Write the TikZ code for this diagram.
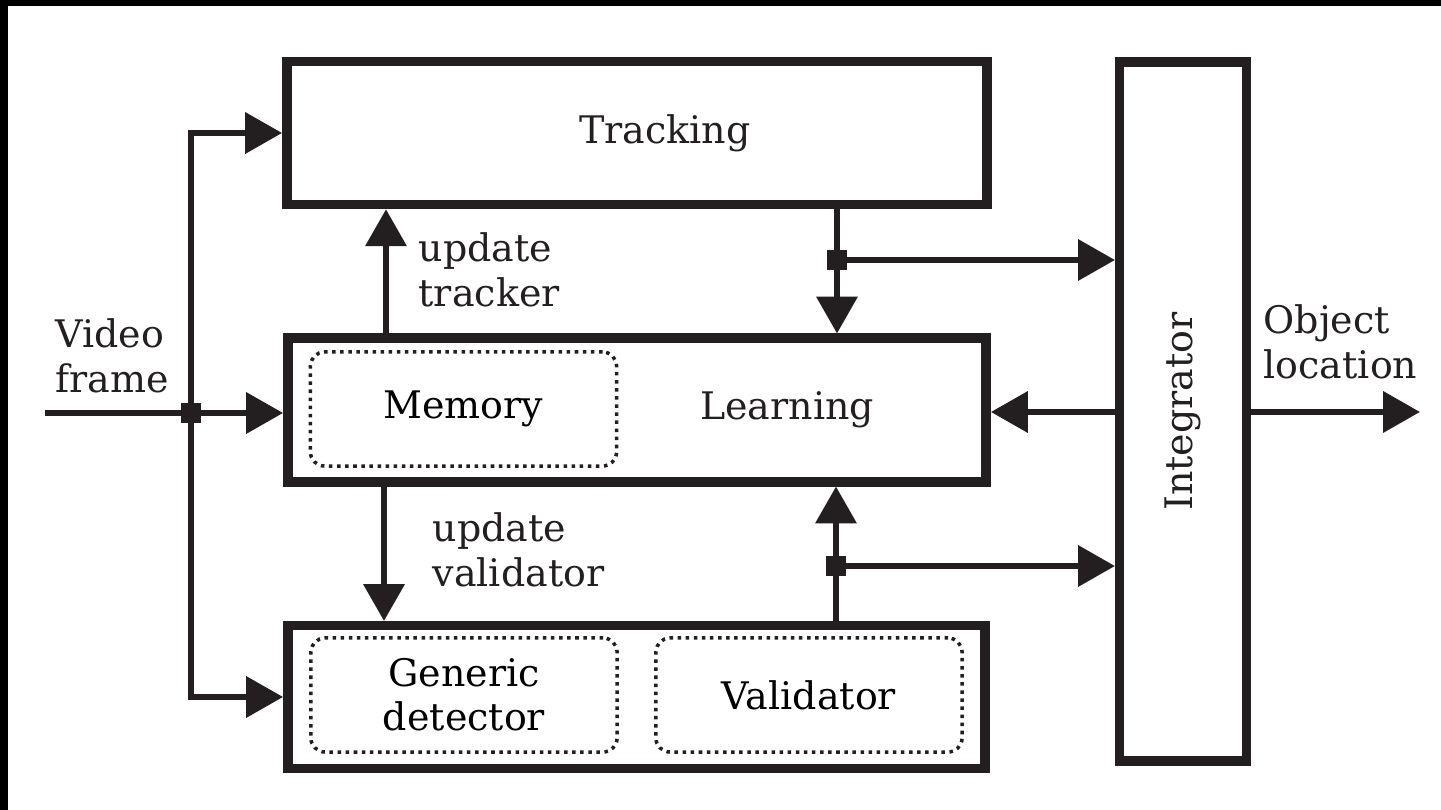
\documentclass[tikz,border=0pt]{standalone}
\usepackage{fontspec}
\setmainfont{DejaVu Serif}
\usetikzlibrary{arrows.meta}
\definecolor{ink}{RGB}{35,31,32}
\begin{document}
\begin{tikzpicture}[x=0.01cm,y=-0.01cm,
  font=\fontsize{10.8}{12.6}\selectfont,
  block/.style={draw=ink, line width=2.7pt, inner sep=0pt, rectangle},
  sub/.style={draw=ink, line width=1pt, dash pattern=on 1pt off 1.3pt, rounded corners=4pt, inner sep=0pt, rectangle, minimum width=3.06cm, minimum height=1.14cm, align=center},
  conn/.style={draw=ink, line width=1.6pt, -{Triangle[length=10.5pt,width=11.5pt]}},
  plain/.style={draw=ink, line width=1.6pt},
  junc/.style={fill=ink, rectangle, minimum size=5.5pt, inner sep=0pt},
  txt/.style={align=left, inner sep=0pt, anchor=west, text=ink}
]
\useasboundingbox (0,0) rectangle (1441,810);
\fill[black] (0,0) rectangle (1441,6);
\fill[black] (0,0) rectangle (8,810);

% main blocks
\node[block, minimum width=7.00cm, minimum height=1.43cm] (track) at (637,133) {};
\node[text=ink] (tracklbl) at (665,133) {Tracking};
\node[block, minimum width=6.98cm, minimum height=1.435cm] (learn) at (637,410) {};
\node[block, minimum width=6.97cm, minimum height=1.425cm] (det) at (636.5,697) {};
\node[block, minimum width=1.265cm, minimum height=6.99cm] (integ) at (1183,411.5) {};
\node[rotate=90, text=ink] (integlbl) at (integ.center) {Integrator};

% inner dotted blocks
\node[sub] (mem) at (463.5,409) {Memory};
\node[text=ink] (learnlbl) at (787,410) {Learning};
\node[sub] (gen) at (464,695) {Generic\\detector};
\node[sub] (val) at (809,695) {Validator};

% labels
\node[txt] (vf) at (55,356) {Video\\frame};
\node[txt] (ol) at (1263,342) {Object\\location};
\node[txt] (utl) at (418,270) {update\\tracker};
\node[txt] (uvl) at (432,550) {update\\validator};

% video input
\coordinate (vin) at (45,413);
\node[junc] (j1) at (191,413) {};
\draw[plain] (vin) -- (j1.center);
\draw[conn] (j1.center) -- (j1.center -| learn.west);
\draw[conn] (j1.center) |- (track.west);
\draw[conn] (j1.center) |- (det.west);

% update tracker / validator
\coordinate (ut) at (386,300);
\coordinate (uv) at (384,550);
\draw[conn] (learn.north -| ut) -- (track.south -| ut);
\draw[conn] (learn.south -| uv) -- (det.north -| uv);

% tracking output
\node[junc] (j2) at (837,260) {};
\draw[plain] (track.south -| j2) -- (j2.center);
\draw[conn] (j2.center) -- (j2.center |- learn.north);
\draw[conn] (j2.center) -- (j2.center -| integ.west);

% detector output
\node[junc] (j3) at (836,566) {};
\draw[plain] (det.north -| j3) -- (j3.center);
\draw[conn] (j3.center) -- (j3.center |- learn.south);
\draw[conn] (j3.center) -- (j3.center -| integ.west);

% integrator
\coordinate (out) at (1420,412);
\draw[conn] (integ.west |- out) -- (learn.east |- out);
\draw[conn] (integ.east |- out) -- (out);
\end{tikzpicture}
\end{document}
